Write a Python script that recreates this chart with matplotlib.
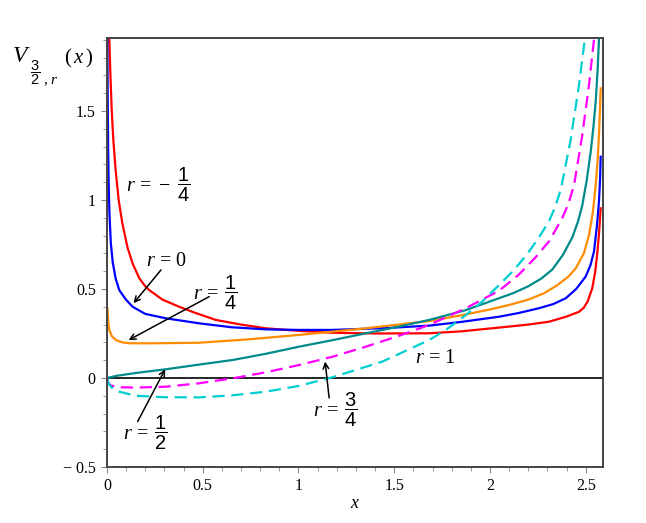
import matplotlib
matplotlib.use("Agg")
import matplotlib.pyplot as plt
from matplotlib.ticker import MultipleLocator, FixedLocator

plt.rcParams['mathtext.fontset'] = 'custom'
plt.rcParams['mathtext.rm'] = 'Liberation Serif'
plt.rcParams['mathtext.it'] = 'Liberation Serif:italic'
plt.rcParams['mathtext.sf'] = 'Liberation Sans'
plt.rcParams['font.family'] = ['Liberation Serif', 'DejaVu Serif']

# values, one pair of lists per curve
x_rm14 = [0.012, 0.018, 0.025, 0.033, 0.045, 0.061, 0.08, 0.108, 0.135, 0.169, 0.2, 0.22,
          0.29, 0.377, 0.45, 0.569, 0.7, 0.83, 1.0, 1.177, 1.4, 1.682, 1.85, 2.047, 2.2,
          2.308, 2.4, 2.465, 2.49, 2.51, 2.534, 2.55, 2.561, 2.57, 2.578]
y_rm14 = [1.91, 1.7, 1.5, 1.34, 1.17, 1.0, 0.87, 0.73, 0.64, 0.56, 0.515, 0.494,
          0.44, 0.40, 0.37, 0.326, 0.30, 0.279, 0.265, 0.254, 0.25, 0.251, 0.262, 0.283, 0.30,
          0.316, 0.345, 0.372, 0.395, 0.43, 0.504, 0.6, 0.71, 0.82, 0.953]

x_r0 = [0.002, 0.004, 0.006, 0.009, 0.013, 0.02, 0.03, 0.045, 0.064, 0.099, 0.134, 0.2,
        0.308, 0.482, 0.65, 0.83, 1.0, 1.177, 1.45, 1.682, 1.85, 2.047, 2.15, 2.256, 2.33,
        2.396, 2.45, 2.5, 2.525, 2.543, 2.558, 2.569, 2.575, 2.578]
y_r0 = [1.91, 1.55, 1.3, 1.08, 0.92, 0.76, 0.65, 0.56, 0.494, 0.44, 0.40, 0.36,
        0.335, 0.307, 0.285, 0.273, 0.27, 0.27, 0.28, 0.294, 0.315, 0.344, 0.365, 0.392, 0.415,
        0.448, 0.5, 0.57, 0.635, 0.71, 0.85, 0.99, 1.12, 1.243]

x_r14 = [0.003, 0.006, 0.012, 0.025, 0.047, 0.08, 0.116, 0.25, 0.482, 0.75, 1.004, 1.352,
         1.682, 1.85, 2.0, 2.1, 2.2, 2.28, 2.35, 2.41, 2.448, 2.49, 2.517, 2.537, 2.552,
         2.562, 2.569, 2.574, 2.578]
y_r14 = [0.39, 0.32, 0.27, 0.235, 0.213, 0.2, 0.195, 0.195, 0.198, 0.218, 0.242, 0.279,
         0.32, 0.352, 0.385, 0.41, 0.44, 0.475, 0.52, 0.57, 0.616, 0.7, 0.803, 0.93, 1.084,
         1.22, 1.365, 1.5, 1.627]

x_r12 = [0.0, 0.05, 0.15, 0.308, 0.48, 0.656, 0.83, 1.004, 1.18, 1.352, 1.52, 1.682, 1.87,
         2.047, 2.12, 2.2, 2.27, 2.326, 2.38, 2.43, 2.46, 2.482, 2.505, 2.526, 2.54, 2.552,
         2.562, 2.569]
y_r12 = [0.0, 0.012, 0.028, 0.049, 0.075, 0.101, 0.136, 0.176, 0.213, 0.251, 0.288, 0.326, 0.38,
         0.448, 0.476, 0.515, 0.56, 0.61, 0.69, 0.79, 0.88, 0.97, 1.11, 1.271, 1.41, 1.552,
         1.73, 1.90]

x_r34 = [0.0, 0.008, 0.02, 0.064, 0.15, 0.308, 0.48, 0.656, 0.83, 1.004, 1.18, 1.352, 1.52,
         1.682, 1.87, 2.047, 2.15, 2.24, 2.31, 2.378, 2.41, 2.439, 2.482, 2.517, 2.543]
y_r34 = [0.0, -0.03, -0.042, -0.052, -0.054, -0.049, -0.03, -0.002, 0.032, 0.073, 0.12, 0.176, 0.235,
         0.298, 0.39, 0.49, 0.58, 0.68, 0.77, 0.9, 0.98, 1.084, 1.365, 1.646, 1.90]

x_r1 = [0.0, 0.01, 0.03, 0.064, 0.15, 0.3, 0.482, 0.65, 0.83, 1.0, 1.177, 1.438, 1.682,
        1.77, 1.87, 1.96, 2.047, 2.12, 2.19, 2.25, 2.308, 2.34, 2.37, 2.42, 2.465, 2.496]
y_r1 = [0.0, -0.035, -0.06, -0.077, -0.1, -0.108, -0.109, -0.098, -0.077, -0.045, 0.004, 0.092, 0.213,
        0.27, 0.35, 0.43, 0.522, 0.6, 0.69, 0.78, 0.88, 0.96, 1.06, 1.33, 1.646, 1.91]

curves = [
    (x_rm14, y_rm14, '#ff0000', '-'),
    (x_r0, y_r0, '#0000ff', '-'),
    (x_r14, y_r14, '#ff8c00', '-'),
    (x_r12, y_r12, '#008b8b', '-'),
    (x_r34, y_r34, '#ff00ff', '--'),
    (x_r1, y_r1, '#00ced1', '--'),
]

x_ticks = [0, 0.5, 1, 1.5, 2, 2.5]
x_tick_labels = ['0', '0.5', '1', '1.5', '2', '2.5']
y_ticks = [-0.5, 0, 0.5, 1, 1.5]
y_tick_labels = ['\u2212 0.5', '0', '0.5', '1', '1.5']

fig = plt.figure(figsize=(6.46, 5.23), dpi=100)
ax = fig.add_axes([0.1656, 0.1071, 0.7678, 0.8203])

ax.axhline(0, color='black', lw=1.2, zorder=1)
for xs, ys, c, ls in curves:
    if ls == '--':
        ax.plot(xs, ys, color=c, lw=1.6, dashes=(5.5, 3), zorder=2)
    else:
        ax.plot(xs, ys, color=c, lw=1.6, zorder=2)

ax.set_xlim(0, 2.59)
ax.set_ylim(-0.5, 1.91)

ax.xaxis.set_major_locator(FixedLocator(x_ticks))
ax.set_xticklabels(x_tick_labels)
ax.yaxis.set_major_locator(FixedLocator(y_ticks))
ax.set_yticklabels(y_tick_labels)
ax.xaxis.set_minor_locator(MultipleLocator(0.1))
ax.yaxis.set_minor_locator(MultipleLocator(0.1))
ax.tick_params(which='both', direction='out', color='#888888', labelsize=11.5, pad=4)
ax.tick_params(which='major', length=4)
ax.tick_params(which='minor', length=3)
for s in ax.spines.values():
    s.set_color('#444444')
    s.set_linewidth(1.4)

ax.set_xlabel(r'$x$', fontsize=13, labelpad=1)

# y label V_{3/2, r}(x), built from pieces
W, H = 646.0, 523.0
fig.text(12 / W, 1 - 56 / H, r'$V$', fontsize=17, ha='left', va='center')
fig.text(35.5 / W, 1 - 73 / H, r'$\dfrac{\mathsf{3}}{\mathsf{2}}$', fontsize=10.5,
         ha='center', va='center')
fig.text(43 / W, 1 - 82 / H, r'$,\,r$', fontsize=11, ha='left', va='center')
fig.text(64 / W, 1 - 58 / H, r'$(\,x\,)$', fontsize=15, ha='left', va='center')

fs = 14.5
arrow = dict(arrowstyle='->', color='black', lw=1.1, shrinkA=0, shrinkB=0)
ax.text(0.265, 1.084, r'$r\,=\,-\;\dfrac{\mathsf{1}}{\mathsf{4}}$', fontsize=fs, ha='center', va='center')
ax.text(0.312, 0.652, r'$r\,=\,0$', fontsize=fs, ha='center', va='center')
ax.annotate('', xy=(0.139, 0.42), xytext=(0.282, 0.607), arrowprops=arrow)
ax.text(0.568, 0.478, r'$r\,=\;\dfrac{\mathsf{1}}{\mathsf{4}}$', fontsize=fs, ha='center', va='center')
ax.annotate('', xy=(0.113, 0.213), xytext=(0.534, 0.457), arrowprops=arrow)
ax.text(0.2025, -0.306, r'$r\,=\;\dfrac{\mathsf{1}}{\mathsf{2}}$', fontsize=fs, ha='center', va='center')
ax.annotate('', xy=(0.304, 0.049), xytext=(0.16, -0.245), arrowprops=arrow)
ax.text(1.194, -0.18, r'$r\,=\;\dfrac{\mathsf{3}}{\mathsf{4}}$', fontsize=fs, ha='center', va='center')
ax.annotate('', xy=(1.139, 0.092), xytext=(1.16, -0.112), arrowprops=arrow)
ax.text(1.717, 0.107, r'$r\,=\,1$', fontsize=fs, ha='center', va='center')

fig.savefig('out.png', dpi=100)
